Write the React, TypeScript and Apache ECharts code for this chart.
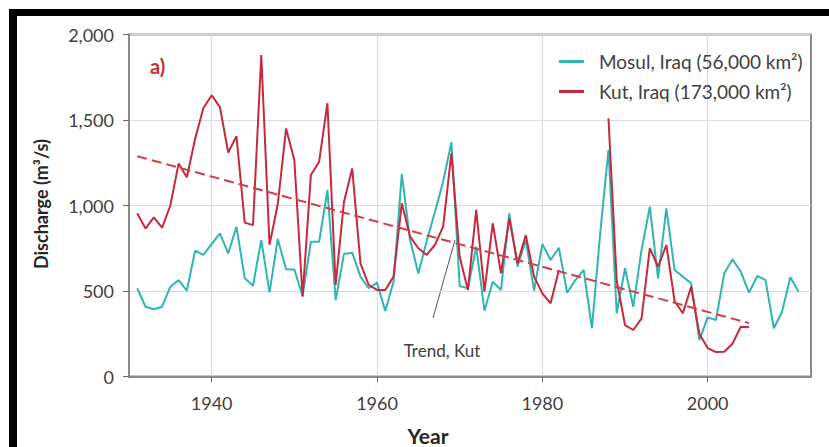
import React, { useEffect, useRef } from "react";
import * as echarts from "echarts";

// ---- Data ----
const mosulStartYear = 1931;
const mosulValues = [
  516, 408, 393, 408, 525, 564, 502, 736, 711, 775,
  837, 720, 876, 574, 531, 798, 492, 804, 627, 626,
  471, 788, 788, 1091, 447, 716, 724, 584, 516, 549,
  383, 554, 1184, 798, 603, 790, 960, 1140, 1370, 529,
  516, 759, 385, 554, 506, 954, 642, 798, 502, 775,
  681, 753, 490, 564, 623, 282, 837, 1325, 369, 633,
  408, 740, 993, 574, 983, 623, 584, 545, 213, 346,
  330, 603, 685, 613, 490, 588, 564, 282, 379, 580,
  496,
];

// Kut record: 1931-1982, gap 1983-1987, 1988-2005
const kutStartYear = 1931;
const kutValues: (number | null)[] = [
  955, 865, 930, 870, 1000, 1245, 1165, 1390, 1570, 1645,
  1575, 1310, 1405, 900, 885, 1880, 770, 1010, 1450, 1266,
  467, 1178, 1256, 1598, 535, 1020, 1217, 662, 535, 506,
  506, 584, 1013, 818, 750, 711, 769, 876, 1305, 700,
  506, 974, 496, 896, 603, 925, 662, 827, 584, 486,
  428, 623, null, null, null, null, null, 1510, 560, 301,
  272, 340, 750, 642, 769, 440, 370, 525, 248, 166,
  143, 145, 192, 291, 288,
];

const trendYears = [1931, 2005];
const trendValues = [1288, 312];

const xTickYears = [1940, 1960, 1980, 2000];

const mosulName = "Mosul, Iraq (56,000 km²)";
const kutName = "Kut, Iraq (173,000 km²)";

const TEAL = "#2fb5b3";
const RED = "#c8283b";
const TREND_RED = "#cf3f4b";
const FONT = "Lato";

export default function App() {
  const ref = useRef<HTMLDivElement>(null);

  useEffect(() => {
    if (!ref.current) return;
    const chart = echarts.init(ref.current, null, { renderer: "svg" });

    const mosulData = mosulValues.map((v, i) => [mosulStartYear + i, v]);
    const kutData = kutValues.map((v, i) => [kutStartYear + i, v === null ? "-" : v]);
    const trendData = trendYears.map((y, i) => [y, trendValues[i]]);

    const option: any = {
      animation: false,
      backgroundColor: "#ffffff",
      textStyle: { fontFamily: FONT },
      grid: {
        left: 129,
        top: 34.5,
        width: 682,
        height: 342,
        show: true,
        borderColor: "#8a8a8a",
        borderWidth: 2,
        backgroundColor: "transparent",
        containLabel: false,
      },
      xAxis: {
        type: "value",
        min: 1930,
        max: 2012.5,
        axisLine: { show: true, lineStyle: { color: "#8a8a8a", width: 2 } },
        axisTick: {
          show: true,
          customValues: xTickYears,
          length: 6,
          lineStyle: { color: "#6a6a6a", width: 1 },
        },
        axisLabel: {
          customValues: xTickYears,
          margin: 17,
          fontSize: 18,
          color: "#404040",
          fontFamily: FONT,
          formatter: (v: number) => String(v),
        },
        splitLine: { show: true, lineStyle: { color: "#d9d9d9", width: 1 } },
      },
      yAxis: {
        type: "value",
        min: 0,
        max: 2000,
        interval: 500,
        axisLine: { show: true, lineStyle: { color: "#8a8a8a", width: 2 } },
        axisTick: { show: true, length: 6, lineStyle: { color: "#6a6a6a", width: 1 } },
        axisLabel: {
          margin: 15,
          fontSize: 18,
          color: "#404040",
          fontFamily: FONT,
          formatter: (v: number) => v.toLocaleString("en-US"),
        },
        splitLine: { show: true, lineStyle: { color: "#d9d9d9", width: 1 } },
      },
      legend: {
        orient: "vertical",
        left: 559,
        top: 52,
        padding: 0,
        icon: "rect",
        itemWidth: 25,
        itemHeight: 3,
        itemGap: 11,
        data: [mosulName, kutName],
        textStyle: { fontSize: 19, color: "#404040", fontFamily: FONT, padding: [0, 0, 0, 10] },
      },
      series: [
        {
          name: mosulName,
          type: "line",
          data: mosulData,
          symbol: "none",
          lineStyle: { color: TEAL, width: 2 },
          itemStyle: { color: TEAL },
          z: 2,
        },
        {
          name: kutName,
          type: "line",
          data: kutData,
          symbol: "none",
          connectNulls: false,
          lineStyle: { color: RED, width: 2 },
          itemStyle: { color: RED },
          z: 3,
        },
        {
          name: "Trend, Kut",
          type: "line",
          data: trendData,
          symbol: "none",
          lineStyle: { color: TREND_RED, width: 2, type: [10, 5] },
          itemStyle: { color: TREND_RED },
          z: 4,
        },
      ],
      graphic: [
        { type: "rect", shape: { x: 9, y: 9, width: 830, height: 7 }, style: { fill: "#000" }, silent: true },
        { type: "rect", shape: { x: 9, y: 9, width: 8, height: 450 }, style: { fill: "#000" }, silent: true },
        {
          type: "text",
          x: 150,
          y: 66,
          style: { text: "a)", font: `bold 20px ${FONT}`, fill: "#cc2a36", align: "left", verticalAlign: "middle" },
        },
        {
          type: "text",
          x: 41,
          y: 204,
          rotation: Math.PI / 2,
          style: { text: "Discharge (m³/s)", font: `bold 18px ${FONT}`, fill: "#262626", align: "center", verticalAlign: "middle" },
        },
        {
          type: "text",
          x: 428,
          y: 435,
          style: { text: "Year", font: `bold 21px ${FONT}`, fill: "#262626", align: "center", verticalAlign: "middle" },
        },
        {
          type: "text",
          x: 442,
          y: 350,
          style: { text: "Trend, Kut", font: `17px ${FONT}`, fill: "#404040", align: "center", verticalAlign: "middle" },
        },
        {
          type: "line",
          shape: { x1: 433, y1: 318, x2: 455, y2: 240 },
          style: { stroke: "#555555", lineWidth: 1 },
        },
      ],
    };

    chart.setOption(option);
    return () => chart.dispose();
  }, []);

  return (
    <div
      ref={ref}
      style={{ position: "absolute", left: 0, top: 0, width: 829, height: 447 }}
    />
  );
}
